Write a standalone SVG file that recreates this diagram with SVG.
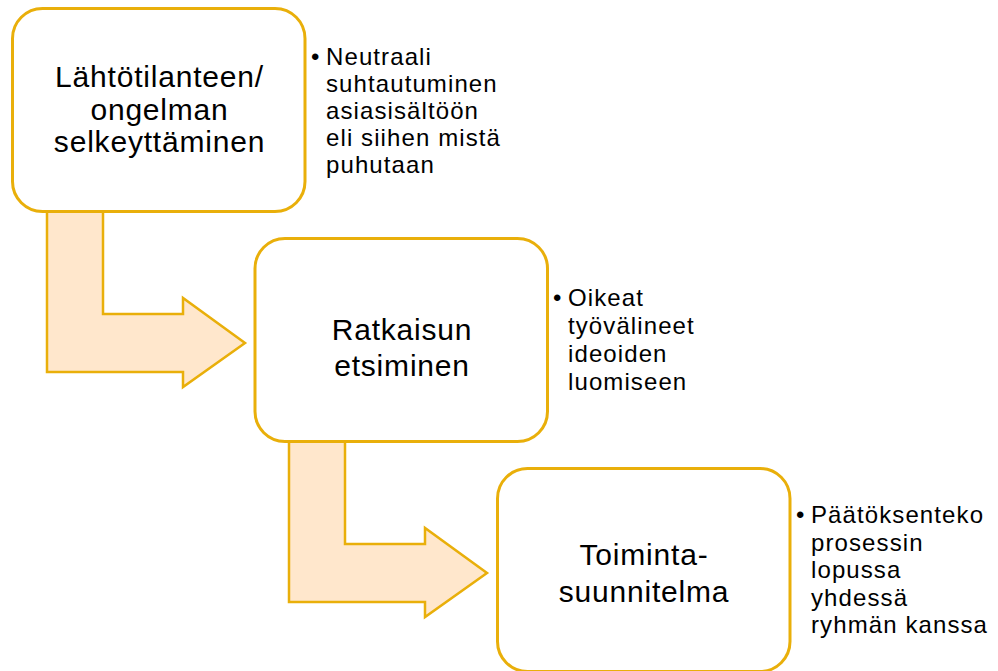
<svg xmlns="http://www.w3.org/2000/svg" width="998" height="671" viewBox="0 0 998 671">
  <style>
    .arrow { fill: #FFE7CC; stroke: #E9AF0A; stroke-width: 2.5; stroke-linejoin: miter; }
    .box { fill: #FFFFFF; stroke: #E9AF0A; stroke-width: 3; }
    .main { font-family: "Liberation Sans", Arial, sans-serif; font-size: 30px; letter-spacing: 0.8px; fill: #000000; text-anchor: middle; }
    .note { font-family: "Liberation Sans", Arial, sans-serif; font-size: 24px; letter-spacing: 1.1px; fill: #000000; }
  </style>
  <rect width="998" height="671" fill="#FFFFFF"/>
  <g id="connectors">
    <polygon class="arrow" points="47,200 103,200 103,314 183,314 183,298 245,343 183,387 183,372 47,372"/>
    <polygon class="arrow" points="289,430 345,430 345,544 425,544 425,528 487,573 425,617 425,602 289,602"/>
  </g>
  <g id="node1">
    <rect class="box" x="12.5" y="8.5" width="292.5" height="203" rx="30" ry="30"/>
    <text class="main"><tspan x="159.5" y="87">Lähtötilanteen/</tspan><tspan x="159.5" y="119.5">ongelman</tspan><tspan x="159.5" y="152">selkeyttäminen</tspan></text>
  </g>
  <g id="note1">
    <text class="note"><tspan x="311" y="64.5">•</tspan></text>
    <text class="note"><tspan x="326" y="64.5">Neutraali</tspan><tspan x="326" y="91.5">suhtautuminen</tspan><tspan x="326" y="118.5">asiasisältöön</tspan><tspan x="326" y="145.5">eli siihen mistä</tspan><tspan x="326" y="172.5">puhutaan</tspan></text>
  </g>
  <g id="node2">
    <rect class="box" x="255" y="238.5" width="292.5" height="203" rx="30" ry="30"/>
    <text class="main"><tspan x="402" y="340">Ratkaisun</tspan><tspan x="402" y="376">etsiminen</tspan></text>
  </g>
  <g id="note2">
    <text class="note"><tspan x="553" y="305.5">•</tspan></text>
    <text class="note"><tspan x="568" y="305.5">Oikeat</tspan><tspan x="568" y="333.5">työvälineet</tspan><tspan x="568" y="361.5">ideoiden</tspan><tspan x="568" y="389.5">luomiseen</tspan></text>
  </g>
  <g id="node3">
    <rect class="box" x="497.5" y="468.5" width="292.5" height="203" rx="30" ry="30"/>
    <text class="main"><tspan x="644" y="565">Toiminta-</tspan><tspan x="644" y="601.5">suunnitelma</tspan></text>
  </g>
  <g id="note3">
    <text class="note"><tspan x="796" y="522.5">•</tspan></text>
    <text class="note"><tspan x="811" y="522.5">Päätöksenteko</tspan><tspan x="811" y="550.5">prosessin</tspan><tspan x="811" y="578">lopussa</tspan><tspan x="811" y="605.5">yhdessä</tspan><tspan x="811" y="633">ryhmän kanssa</tspan></text>
  </g>
</svg>
